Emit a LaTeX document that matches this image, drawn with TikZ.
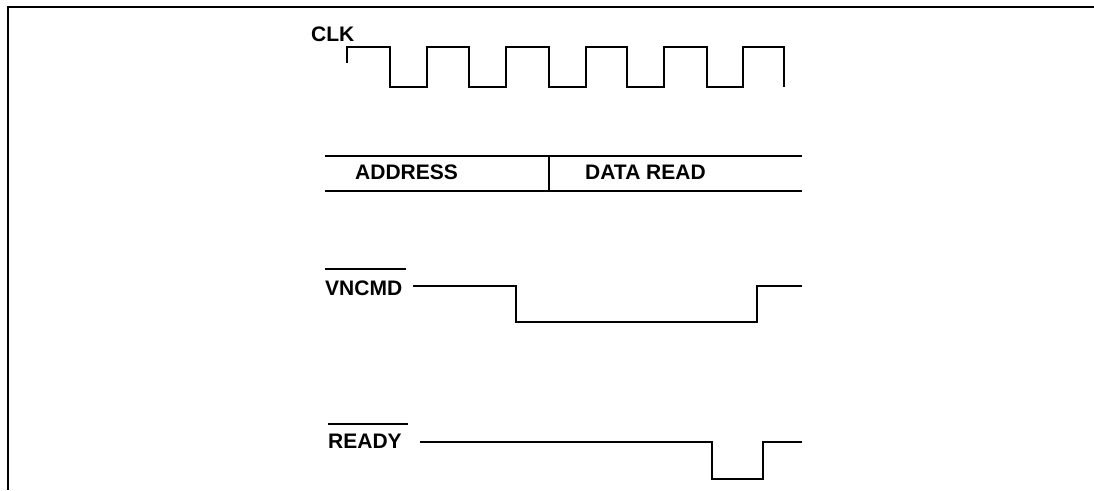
\documentclass[tikz,border=0pt]{standalone}
\usepackage{fontspec}
\setmainfont{Liberation Sans}
\begin{document}
\begin{tikzpicture}[x=1pt,y=-1pt,
  lbl/.style={font=\fontsize{21}{24}\selectfont\bfseries, inner sep=0pt, anchor=base west},
  wave/.style={line width=2pt, line join=miter},
  frame/.style={line width=2.8pt}]
\useasboundingbox (0,0) rectangle (1094,490);
% frame
\draw[frame] (8,490) -- (8,7) -- (1094,7);
% CLK
\node[lbl] (clk) at (311,41) {CLK};
\draw[wave] (347,63) -- (347,47) -- (390,47) -- (390,87) -- (427,87) -- (427,47)
  -- (469,47) -- (469,87) -- (506,87) -- (506,47) -- (549,47) -- (549,87)
  -- (586,87) -- (586,47) -- (627,47) -- (627,87) -- (664,87) -- (664,47)
  -- (707,47) -- (707,87) -- (743,87) -- (743,47) -- (784,47) -- (784,87);
% bus
\draw[wave] (325,156) -- (802,156);
\draw[wave] (325,191) -- (802,191);
\draw[wave] (549,156) -- (549,191);
\node[lbl] (addr) at (355,179) {ADDRESS};
\node[lbl] (data) at (585,179) {DATA READ};
% VNCMD
\node[lbl] (vn) at (325,295) {VNCMD};
\draw[line width=1.8pt] ([yshift=11pt]vn.north west) -- ([yshift=11pt,xshift=4pt]vn.north east);
\draw[wave] (413,286) -- (516,286) -- (516,322) -- (757,322) -- (757,286) -- (802,286);
% READY
\node[lbl] (rdy) at (328,448) {READY};
\draw[line width=1.8pt] ([yshift=9pt]rdy.north west) -- ([yshift=9pt,xshift=6pt]rdy.north east);
\draw[wave] (420,442) -- (712,442) -- (712,479) -- (763,479) -- (763,442) -- (802,442);
\end{tikzpicture}
\end{document}
